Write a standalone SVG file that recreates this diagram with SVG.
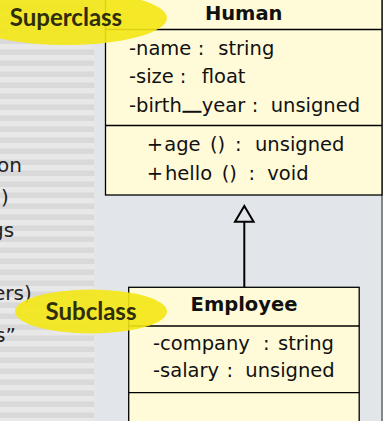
<svg xmlns="http://www.w3.org/2000/svg" width="383" height="421" viewBox="0 0 383 421">
<defs>
<pattern id="stripes" x="0" y="0" width="10" height="11" patternUnits="userSpaceOnUse">
<rect x="0" y="0" width="10" height="11" fill="#e8e8e8"/>
<rect x="0" y="5.5" width="10" height="5.5" fill="#d9d9d9"/>
</pattern>
</defs>
<style>
.box{fill:#fffbd8;stroke:#000;stroke-width:1.3}
.sep{stroke:#000;stroke-width:1.3}
.t{font-family:"DejaVu Sans",sans-serif;font-size:19.5px;fill:#111}
.h{font-family:"DejaVu Sans",sans-serif;font-size:19.5px;font-weight:bold;fill:#111;text-anchor:middle}
.c{text-anchor:middle}
.call{fill:#f4e714;fill-opacity:0.9}
.ct{font-family:Lato,"DejaVu Sans",sans-serif;font-size:24px;font-weight:bold;fill:#2f2e0a;text-anchor:middle}
.lst{font-family:"DejaVu Sans",sans-serif;font-size:20px;fill:#222}
</style>
<rect x="0" y="0" width="383" height="421" fill="#e2e6ea"/>
<rect x="0" y="0" width="94" height="421" fill="url(#stripes)"/>
<rect x="381" y="0" width="2" height="421" fill="#868686"/>
<g id="listing">
<text class="lst" x="-3" y="172">on</text>
<text class="lst" x="1" y="204" font-size="24">)</text>
<text class="lst" x="-9" y="237">gs</text>
<text class="lst" x="-7" y="300">ers)</text>
<text class="lst" x="-5" y="342" fill="#3b6fc4">s”</text>
</g>
<g id="connectors">
<line x1="244.3" y1="221.7" x2="244.3" y2="287" stroke="#000" stroke-width="2"/>
<polygon points="244.3,206 235,221.7 253.6,221.7" fill="#e2e6ea" stroke="#000" stroke-width="2"/>
</g>
<g id="human">
<rect class="box" x="105.5" y="-2" width="276.5" height="197"/>
<line class="sep" x1="105.5" y1="29.5" x2="382" y2="29.5"/>
<line class="sep" x1="105.5" y1="125.5" x2="382" y2="125.5"/>
<text class="h" x="243.7" y="20">Human</text>
<text class="t" y="54.5"><tspan x="129">-name</tspan><tspan x="201" class="c">:</tspan><tspan x="218.3">string</tspan></text>
<text class="t" y="83"><tspan x="129">-size</tspan><tspan x="183" class="c">:</tspan><tspan x="201.7">float</tspan></text>
<text class="t" y="111.5"><tspan x="129">-birth</tspan><tspan x="201.7">year</tspan><tspan x="255" class="c">:</tspan><tspan x="270.7">unsigned</tspan></text>
<rect x="182.5" y="110.8" width="19" height="2" fill="#111"/>
<text class="t" y="151"><tspan x="146.7">+</tspan><tspan x="164.3">age</tspan><tspan x="210">()</tspan><tspan x="238.3" class="c">:</tspan><tspan x="255">unsigned</tspan></text>
<text class="t" y="180"><tspan x="146.7">+</tspan><tspan x="165">hello</tspan><tspan x="221.7">()</tspan><tspan x="251.7" class="c">:</tspan><tspan x="267.3">void</tspan></text>
</g>
<g id="employee">
<rect class="box" x="128.7" y="287.3" width="230.5" height="140"/>
<line class="sep" x1="128.7" y1="326" x2="359.2" y2="326"/>
<line class="sep" x1="128.7" y1="392.7" x2="359.2" y2="392.7"/>
<text class="h" x="244" y="311">Employee</text>
<text class="t" y="350"><tspan x="153">-company</tspan><tspan x="266.3" class="c">:</tspan><tspan x="278">string</tspan></text>
<text class="t" y="377.3"><tspan x="153">-salary</tspan><tspan x="229.7" class="c">:</tspan><tspan x="245.3">unsigned</tspan></text>
</g>
<g id="superclass">
<ellipse class="call" cx="66" cy="18" rx="101" ry="27"/>
<text class="ct" x="66" y="26">Superclass</text>
</g>
<g id="subclass">
<ellipse class="call" cx="91" cy="311.5" rx="76" ry="22"/>
<text class="ct" x="91" y="320">Subclass</text>
</g>
</svg>
